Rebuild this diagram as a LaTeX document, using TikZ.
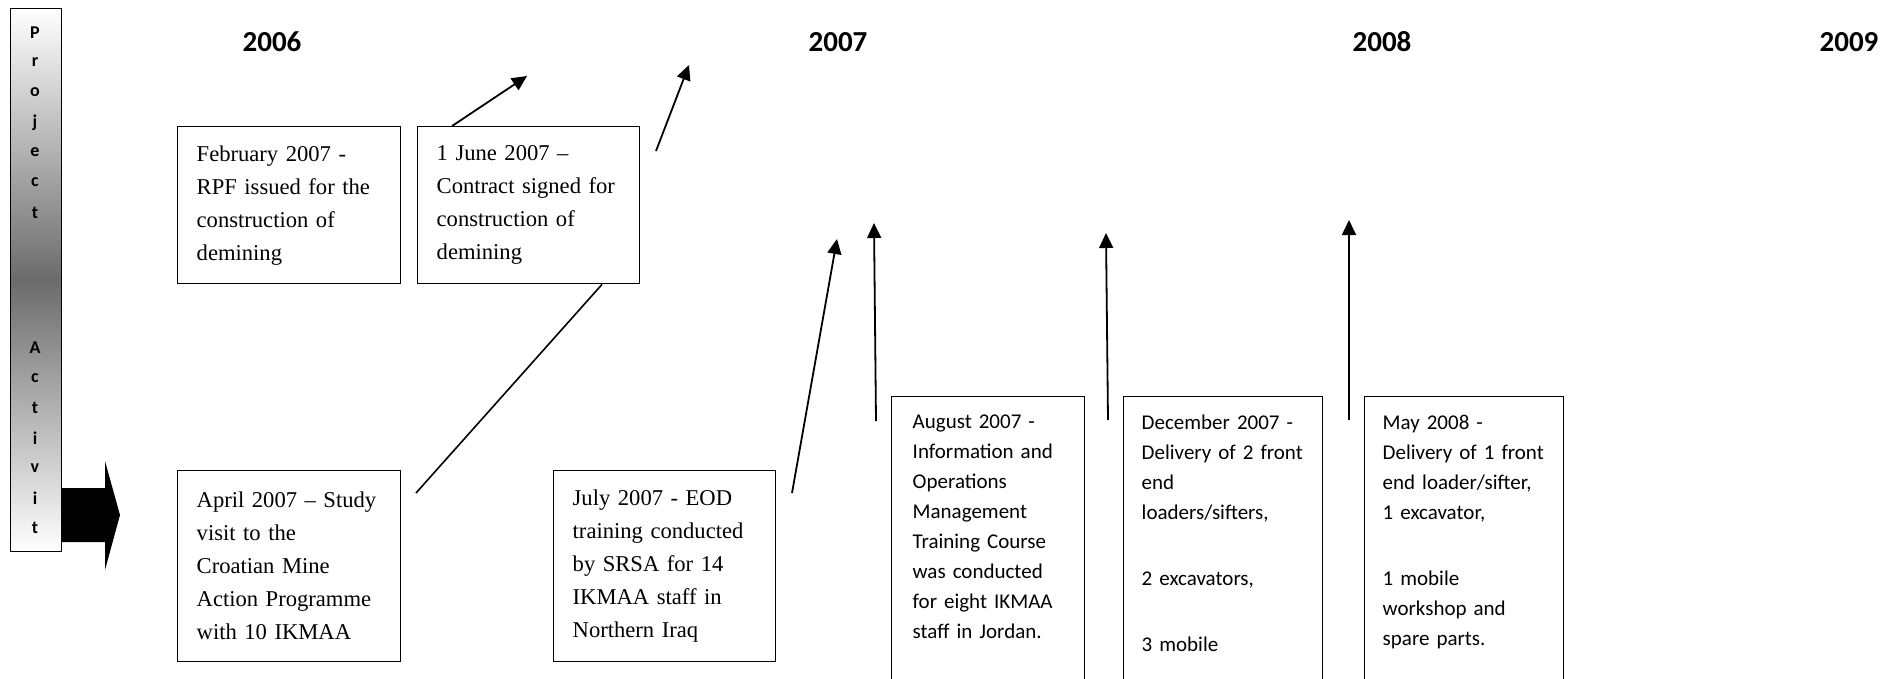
\documentclass[tikz,border=0pt]{standalone}
\usepackage{fontspec}
\newfontfamily\calib{Carlito}
\newfontfamily\serf{Liberation Serif}
\usetikzlibrary{arrows.meta}
\tikzset{
  evbox/.style={draw, line width=1.4pt, anchor=north west, align=left,
    inner xsep=19pt, minimum height=157pt,
    font=\serf\fontsize{22.6}{33}\selectfont},
  tallbox/.style={draw, line width=1.4pt, anchor=north west, align=left,
    inner xsep=18pt, inner ysep=18pt, text depth=280pt,
    font=\calib\fontsize{21}{30}\selectfont},
  yr/.style={font=\calib\bfseries\fontsize{29}{30}\selectfont},
  barlet/.style={font=\calib\bfseries\fontsize{18}{18}\selectfont, inner sep=0pt},
  arr/.style={line width=1.8pt, -{Triangle[length=15pt,width=14pt]}}
}

\begin{document}
\begin{tikzpicture}[x=1pt, y=-1pt]
  \useasboundingbox (0,0) rectangle (1888,678);
  \clip (0,0) rectangle (1888,678);

  % side bar and block arrow
  \fill (61,488) -- (105,488) -- (105,461) -- (120,515) -- (105,570) -- (105,542) -- (61,542) -- cycle;
  \node[draw, line width=1.4pt, anchor=north west, minimum width=51pt, minimum height=543pt,
    top color=white, bottom color=white, middle color=black!58] (bar) at (10,8) {};
  \foreach \ch [count=\i] in {P,r,o,j,e,c,t}
    \node[barlet] (p\i) at (35, {2.5+\i*30}) {\ch};
  \foreach \ch [count=\i] in {A,c,t,i,v,i,t}
    \node[barlet] (a\i) at (35, {318+\i*30}) {\ch};

  % years
  \node[yr] (y2006) at (272,42) {2006};
  \node[yr] (y2007) at (838,42) {2007};
  \node[yr] (y2008) at (1382,42) {2008};
  \node[yr] (y2009) at (1849,42) {2009};

  % event boxes
  \node[evbox, text width=185pt] (feb) at (177,126)
    {February 2007 -\\RPF issued for the\\construction of\\demining};
  \node[evbox, text width=184pt] (june) at (417,126)
    {1 June 2007 –\\Contract signed for\\construction of\\demining};
  \node[evbox, text width=185pt, minimum height=191pt] (april) at (177,470)
    {April 2007 – Study\\visit to the\\Croatian Mine\\Action Programme\\with 10 IKMAA};
  \node[evbox, text width=184pt, minimum height=191pt] (july) at (553,470)
    {July 2007 - EOD\\training conducted\\by SRSA for 14\\IKMAA staff in\\Northern Iraq};
  \node[tallbox, text width=151pt, inner xsep=21pt] (aug) at (891,396)
    {August 2007 -\\Information and\\Operations\\Management\\Training Course\\was conducted\\for eight IKMAA\\staff in Jordan.};
  \node[tallbox, text width=163pt] (dec) at (1123,396)
    {December 2007 -\\Delivery of 2 front\\end\\loaders/sifters,\\[36pt]2 excavators,\\[36pt]3 mobile};
  \node[tallbox, text width=163pt] (may) at (1364,396)
    {May 2008 -\\Delivery of 1 front\\end loader/sifter,\\1 excavator,\\[36pt]1 mobile\\workshop and\\spare parts.};

  % free ends of the connectors
  \coordinate (t1) at (527,76);
  \coordinate (s2) at (656,151);
  \coordinate (t2) at (689,65);
  \coordinate (s3) at (416,493);
  \coordinate (s4) at (792,493);
  \coordinate (t4) at (837,239);
  \coordinate (s5) at (876,421);
  \coordinate (t5) at (874,223);
  \coordinate (s6) at (1108,420);
  \coordinate (t6) at (1106,233);
  \coordinate (s7) at (1349,420);
  \coordinate (t7) at (1349,220);

  \draw[arr] ([xshift=35pt]june.north west) -- (t1);
  \draw[arr] (s2) -- (t2);
  \draw[line width=1.6pt] (s3) -- ([xshift=185pt]june.south west);  % no tip
  \draw[arr] (s4) -- (t4);
  \draw[arr] (s5) -- (t5);
  \draw[arr] (s6) -- (t6);
  \draw[arr] (s7) -- (t7);
\end{tikzpicture}
\end{document}
